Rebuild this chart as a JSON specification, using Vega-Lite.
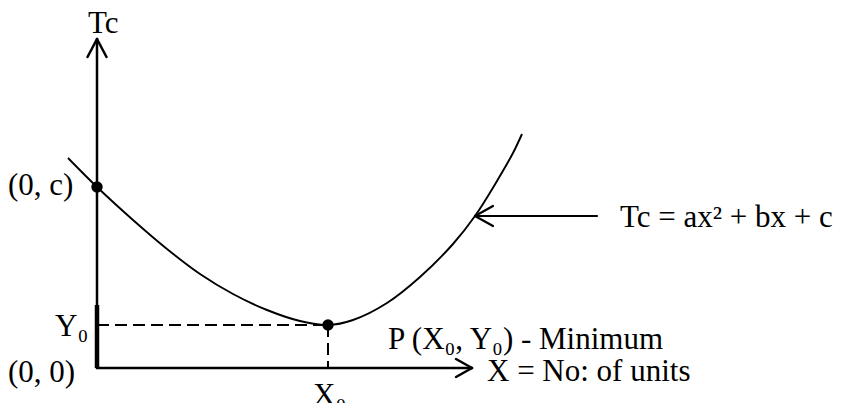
{
  "$schema": "https://vega.github.io/schema/vega-lite/v6.json",
  "width": 843,
  "height": 403,
  "autosize": {"type": "none"},
  "padding": 0,
  "background": "white",
  "config": {"view": {"stroke": null}},
  "datasets": {
    "solid": [
      {"id": "yaxis", "x": 0, "y": 0, "x2": 0, "y2": 329},
      {"id": "yarrowL", "x": 0, "y": 329, "x2": -9.5, "y2": 311},
      {"id": "yarrowR", "x": 0, "y": 329, "x2": 9.5, "y2": 311},
      {"id": "xaxis", "x": 0, "y": 0, "x2": 375, "y2": 0},
      {"id": "xarrowU", "x": 375, "y": 0, "x2": 359, "y2": 9},
      {"id": "xarrowD", "x": 375, "y": 0, "x2": 359, "y2": -9}
    ],
    "pointer": [
      {"id": "shaft", "x": 500, "y": 152, "x2": 378, "y2": 152},
      {"id": "headU", "x": 378, "y": 152, "x2": 396, "y2": 162},
      {"id": "headD", "x": 378, "y": 152, "x2": 396, "y2": 142}
    ],
    "dashed": [
      {"id": "toY0", "x": 0, "y": 43, "x2": 231, "y2": 43},
      {"id": "toX0", "x": 231, "y": 43, "x2": 231, "y2": 0}
    ],
    "thick": [
      {"id": "seg", "x": 0, "y": 0, "x2": 0, "y2": 63}
    ],
    "curve": [
      {"x": -29, "y": 210},
      {"x": 0, "y": 181},
      {"x": 36, "y": 148},
      {"x": 70, "y": 119},
      {"x": 103, "y": 94},
      {"x": 136, "y": 74},
      {"x": 170, "y": 58},
      {"x": 203, "y": 47},
      {"x": 231, "y": 43},
      {"x": 256, "y": 48},
      {"x": 290, "y": 65},
      {"x": 323, "y": 91},
      {"x": 356, "y": 124},
      {"x": 378, "y": 152},
      {"x": 400, "y": 187},
      {"x": 416, "y": 215},
      {"x": 425, "y": 234}
    ],
    "dots": [
      {"label": "(0, c)", "x": 0, "y": 181},
      {"label": "P", "x": 231, "y": 43}
    ],
    "labels": [
      {"text": "Tc", "x": -9, "y": 335},
      {"text": "(0, c)", "x": -89, "y": 173},
      {"text": "Y₀", "x": -42, "y": 32},
      {"text": "(0, 0)", "x": -89, "y": -14},
      {"text": "X₀", "x": 216, "y": -37},
      {"text": "P (X₀, Y₀) - Minimum", "x": 291, "y": 19},
      {"text": "X = No: of units", "x": 390, "y": -13},
      {"text": "Tc = ax² + bx + c", "x": 523, "y": 141}
    ]
  },
  "encoding": {
    "x": {"field": "x", "type": "quantitative", "scale": {"domain": [-97, 746], "nice": false, "zero": false}, "axis": null},
    "y": {"field": "y", "type": "quantitative", "scale": {"domain": [-35, 368], "nice": false, "zero": false}, "axis": null}
  },
  "layer": [
    {
      "data": {"name": "thick"},
      "mark": {"type": "rule", "color": "black", "strokeWidth": 4.5},
      "encoding": {"x2": {"field": "x2"}, "y2": {"field": "y2"}}
    },
    {
      "data": {"name": "solid"},
      "mark": {"type": "rule", "color": "black", "strokeWidth": 2.5, "strokeCap": "round"},
      "encoding": {"x2": {"field": "x2"}, "y2": {"field": "y2"}}
    },
    {
      "data": {"name": "pointer"},
      "mark": {"type": "rule", "color": "black", "strokeWidth": 2.2, "strokeCap": "round"},
      "encoding": {"x2": {"field": "x2"}, "y2": {"field": "y2"}}
    },
    {
      "data": {"name": "dashed"},
      "mark": {"type": "rule", "color": "black", "strokeWidth": 2, "strokeDash": [12, 6]},
      "encoding": {"x2": {"field": "x2"}, "y2": {"field": "y2"}}
    },
    {
      "data": {"name": "curve"},
      "mark": {"type": "line", "color": "black", "strokeWidth": 1.9, "interpolate": "catmull-rom"},
      "encoding": {}
    },
    {
      "data": {"name": "dots"},
      "mark": {"type": "point", "shape": "circle", "filled": true, "color": "black", "size": 130, "opacity": 1},
      "encoding": {}
    },
    {
      "data": {"name": "labels"},
      "mark": {"type": "text", "font": "Liberation Serif", "fontSize": 31, "align": "left", "baseline": "alphabetic", "color": "black"},
      "encoding": {"text": {"field": "text"}}
    }
  ]
}
